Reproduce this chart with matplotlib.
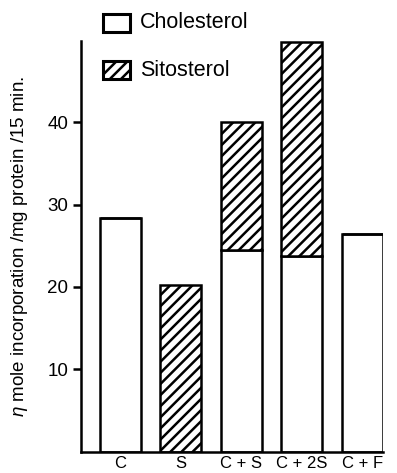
import matplotlib
matplotlib.use("Agg")
import matplotlib.pyplot as plt
from matplotlib.patches import Rectangle

categories = ["C", "S", "C + S", "C + 2S", "C + F"]
cholesterol = [28.4, 0.0, 24.5, 23.8, 26.4]
sitosterol = [0.0, 20.2, 15.5, 26.0, 0.0]
yticks = [10, 20, 30, 40]
ylabel = r"$\eta$ mole incorporation /mg protein /15 min."
legend_labels = ["Cholesterol", "Sitosterol"]

plt.rcParams['font.family'] = ['Liberation Sans', 'DejaVu Sans']
plt.rcParams['hatch.linewidth'] = 1.8
plt.rcParams['mathtext.fontset'] = 'custom'
plt.rcParams['mathtext.it'] = 'Liberation Sans:italic'

W, H = 397, 473
fig = plt.figure(figsize=(W / 100, H / 100), dpi=100)
ax = fig.add_axes([81 / W, 1 - 451.5 / H, (383 - 81) / W, (451.5 - 40.7) / H])

x = list(range(len(categories)))
width = 0.677
ax.bar(x, cholesterol, width=width, color="white", edgecolor="black", linewidth=1.8)
sito_bottom = cholesterol
ax.bar(x, sitosterol, width=width, bottom=sito_bottom, color="white",
       edgecolor="black", linewidth=1.8, hatch="///")

ax.set_xlim(-0.644, 4.338)
ax.set_ylim(0, 49.9)
ax.set_yticks(yticks)
ax.set_yticklabels([str(t) for t in yticks], fontsize=13.5)
ax.set_xticks(x)
ax.set_xticklabels(categories, fontsize=12)
ax.tick_params(axis='x', length=0, pad=3)
ax.tick_params(axis='y', direction='out', length=6, width=1.8, pad=3)
for s in ['top', 'right']:
    ax.spines[s].set_visible(False)
ax.spines['left'].set_linewidth(1.8)
ax.spines['bottom'].set_linewidth(1.8)

fig.text(20 / W, 1 - 246 / H, ylabel, rotation=90, ha='center', va='center', fontsize=13.5)

# legend
hatches = [None, "///"]
ys = [23, 70]
for lab, h, yc in zip(legend_labels, hatches, ys):
    r = Rectangle((103 / W, 1 - (yc + 9) / H), 27 / W, 18 / H, transform=fig.transFigure,
                  facecolor="white", edgecolor="black", linewidth=2.2, hatch=h)
    fig.add_artist(r)
    fig.text(140 / W, 1 - yc / H, lab, ha='left', va='center', fontsize=15.5)

fig.savefig("out.png", dpi=100)
